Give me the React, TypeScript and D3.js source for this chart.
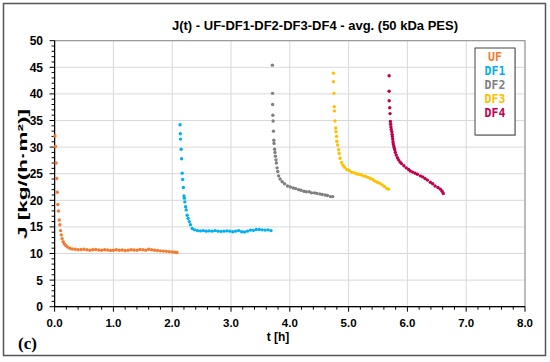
import React from "react";
import * as d3 from "d3";

const TITLE = "J(t) - UF-DF1-DF2-DF3-DF4  - avg. (50 kDa PES)";
const X_LABEL = "t [h]";
const Y_LABEL = "J [kg/(h·m²)]";
const PANEL = "(c)";

const xTicks = [0, 1, 2, 3, 4, 5, 6, 7, 8];
const yTicks = [0, 5, 10, 15, 20, 25, 30, 35, 40, 45, 50];

const UF: [number, number][] = [
  [0.005, 32.1], [0.015, 30.1], [0.025, 27.0], [0.035, 24.1], [0.045, 21.5], [0.055, 19.2],
  [0.065, 18.0], [0.078, 16.3], [0.09, 15.4], [0.102, 14.3], [0.114, 13.5], [0.128, 12.8],
  [0.145, 12.2], [0.165, 11.8], [0.19, 11.5], [0.22, 11.2], [0.26, 11.0], [0.3, 10.85],
  [0.35, 10.8], [0.4, 10.7], [0.45, 10.75], [0.5, 10.8], [0.55, 10.7], [0.6, 10.6], [0.65, 10.7],
  [0.7, 10.75], [0.75, 10.65], [0.8, 10.6], [0.85, 10.7], [0.9, 10.65], [0.95, 10.55], [1.0, 10.6],
  [1.05, 10.7], [1.1, 10.6], [1.15, 10.65], [1.2, 10.55], [1.25, 10.6], [1.3, 10.7], [1.35, 10.65],
  [1.4, 10.6], [1.45, 10.75], [1.5, 10.7], [1.55, 10.6], [1.6, 10.8], [1.65, 10.7], [1.7, 10.6],
  [1.75, 10.55], [1.8, 10.5], [1.85, 10.45], [1.9, 10.4], [1.95, 10.35], [2.0, 10.3], [2.04, 10.25],
  [2.08, 10.2],
];

const DF1: [number, number][] = [
  [2.134, 34.2], [2.138, 32.5], [2.142, 31.5], [2.152, 29.6], [2.16, 27.8], [2.17, 25.1],
  [2.178, 23.9], [2.19, 22.4], [2.2, 20.8], [2.206, 20.4], [2.215, 19.7], [2.228, 18.8],
  [2.238, 18.2], [2.255, 17.2], [2.27, 16.6], [2.29, 16.0], [2.31, 15.4], [2.34, 14.7],
  [2.38, 14.45], [2.43, 14.3], [2.48, 14.25], [2.53, 14.3], [2.58, 14.2], [2.63, 14.25],
  [2.68, 14.2], [2.73, 14.3], [2.78, 14.2], [2.83, 14.15], [2.88, 14.2], [2.93, 14.25],
  [2.98, 14.2], [3.03, 14.1], [3.08, 14.2], [3.13, 14.3], [3.18, 14.1], [3.23, 14.05],
  [3.28, 14.2], [3.33, 14.4], [3.38, 14.35], [3.43, 14.5], [3.48, 14.5], [3.53, 14.45],
  [3.58, 14.4], [3.63, 14.45], [3.68, 14.3],
];

const DF2: [number, number][] = [
  [3.704, 45.4], [3.706, 40.1], [3.708, 38.0], [3.712, 36.0], [3.716, 34.9], [3.722, 33.0],
  [3.728, 31.3], [3.732, 30.7], [3.742, 29.6], [3.748, 29.0], [3.755, 28.3], [3.765, 27.6],
  [3.772, 27.0], [3.784, 26.1], [3.795, 25.4], [3.81, 24.6], [3.835, 24.0], [3.87, 23.5],
  [3.91, 23.1], [3.96, 22.7], [4.01, 22.5], [4.06, 22.3], [4.1, 22.2], [4.15, 22.0],
  [4.19, 21.9], [4.24, 21.7], [4.28, 21.6], [4.33, 21.6], [4.37, 21.4], [4.42, 21.4],
  [4.46, 21.3], [4.51, 21.2], [4.55, 21.1], [4.6, 21.0], [4.64, 20.9], [4.69, 20.7], [4.73, 20.7],
];

const DF3: [number, number][] = [
  [4.742, 43.9], [4.743, 42.3], [4.75, 40.1], [4.755, 37.6], [4.759, 36.8], [4.768, 34.9],
  [4.78, 33.6], [4.785, 32.9], [4.795, 32.0], [4.8, 31.1], [4.815, 30.4], [4.83, 29.5],
  [4.84, 28.8], [4.855, 27.9], [4.88, 27.1], [4.905, 26.6], [4.93, 26.2], [4.97, 25.8],
  [5.01, 25.6], [5.05, 25.3], [5.09, 25.2], [5.13, 25.0], [5.17, 24.9], [5.21, 24.8],
  [5.25, 24.6], [5.29, 24.5], [5.33, 24.3], [5.37, 24.1], [5.41, 23.9], [5.45, 23.6],
  [5.49, 23.4], [5.53, 23.2], [5.57, 22.9], [5.61, 22.6], [5.65, 22.2], [5.68, 22.1],
];

const DF4: [number, number][] = [
  [5.689, 43.4], [5.689, 40.5], [5.69, 38.7], [5.7, 37.4], [5.705, 36.3], [5.711, 34.8],
  [5.715, 34.3], [5.72, 33.8], [5.725, 33.3], [5.735, 32.9], [5.74, 32.4], [5.745, 32.0],
  [5.75, 31.5], [5.755, 31.0], [5.76, 30.6], [5.769, 30.2], [5.775, 29.9], [5.785, 29.5],
  [5.795, 29.0], [5.81, 28.5], [5.83, 28.0], [5.85, 27.6], [5.875, 27.2], [5.9, 26.9],
  [5.94, 26.5], [5.98, 26.1], [6.02, 25.8], [6.05, 25.5], [6.09, 25.3], [6.13, 25.1],
  [6.17, 24.9], [6.22, 24.6], [6.26, 24.4], [6.3, 24.1], [6.34, 23.8], [6.39, 23.4],
  [6.43, 23.1], [6.47, 22.7], [6.52, 22.4], [6.56, 22.1], [6.59, 21.7], [6.61, 21.3],
];

const seriesNames = ["UF", "DF1", "DF2", "DF3", "DF4"];
const seriesData = [UF, DF1, DF2, DF3, DF4];
const seriesColors = ["#F47B2E", "#00B0F0", "#7F7F7F", "#FFC000", "#C0004E"];

export default function App() {
  const W = 550;
  const H = 362;
  const x = d3.scaleLinear().domain([0, 8]).range([54.6, 525]);
  const y = d3.scaleLinear().domain([0, 50]).range([306.7, 40.7]);
  const xMinor = d3.range(0, 8.0001, 0.2);
  const yMinor = d3.range(0, 50.0001, 1);
  const sans = "Arial, 'Liberation Sans', sans-serif";

  return (
    <svg width={W} height={H} style={{ position: "absolute", left: 0, top: 0 }}>
      <rect x={0} y={0} width={W} height={H} fill="#fff" />
      <rect x={3.5} y={3.5} width={542} height={352} fill="#fff" stroke="#555" strokeWidth={1.5} />
      {/* grid */}
      {yTicks.map((t) => (
        <line key={"gy" + t} x1={x(0)} x2={x(8)} y1={y(t)} y2={y(t)} stroke="#d9d9d9" strokeWidth={1} />
      ))}
      {xTicks.map((t) => (
        <line key={"gx" + t} x1={x(t)} x2={x(t)} y1={y(0)} y2={y(50)} stroke="#d9d9d9" strokeWidth={1} />
      ))}
      <rect x={x(0)} y={y(50)} width={x(8) - x(0)} height={y(0) - y(50)} fill="none" stroke="#8c8c8c" strokeWidth={1} />
      {/* axes */}
      <line x1={x(0)} x2={x(0)} y1={y(0)} y2={y(50)} stroke="#000" strokeWidth={1.2} />
      <line x1={x(0)} x2={x(8)} y1={y(0)} y2={y(0)} stroke="#000" strokeWidth={1.2} />
      {yMinor.map((t) => (
        <line key={"ym" + t} x1={x(0) - (t % 5 === 0 ? 5 : 3)} x2={x(0)} y1={y(t)} y2={y(t)} stroke="#000" strokeWidth={1} />
      ))}
      {xMinor.map((t, i) => (
        <line key={"xm" + i} x1={x(t)} x2={x(t)} y1={y(0)} y2={y(0) + (i % 5 === 0 ? 5 : 3)} stroke="#000" strokeWidth={1} />
      ))}
      {yTicks.map((t) => (
        <text key={"yl" + t} x={43} y={y(t) + 4.5} textAnchor="end" fontFamily={sans} fontWeight="bold" fontSize={12} fill="#000">
          {t}
        </text>
      ))}
      {xTicks.map((t) => (
        <text key={"xl" + t} x={x(t)} y={327} textAnchor="middle" fontFamily={sans} fontWeight="bold" fontSize={11.5} fill="#000">
          {t.toFixed(1)}
        </text>
      ))}
      <text x={278} y={341} textAnchor="middle" fontFamily={sans} fontWeight="bold" fontSize={12} fill="#000">
        {X_LABEL}
      </text>
      <text
        transform={`translate(27,174) rotate(-90)`}
        textAnchor="middle"
        fontFamily={sans}
        fontWeight="bold"
        fontSize={12}
        textLength={130}
        lengthAdjust="spacingAndGlyphs"
        fill="#000"
      >
        {Y_LABEL}
      </text>
      <text x={315} y={30} textAnchor="middle" fontFamily={sans} fontWeight="bold" fontSize={13} fill="#000">
        {TITLE}
      </text>
      <text x={18} y={349} fontFamily="'Liberation Serif', 'DejaVu Serif', serif" fontWeight="bold" fontSize={17} fill="#000">
        {PANEL}
      </text>
      {/* data */}
      {seriesData.map((s, si) => (
        <g key={"s" + si} fill={seriesColors[si]}>
          {s.map((d, i) => (
            <circle key={i} cx={x(d[0])} cy={y(d[1])} r={1.7} />
          ))}
        </g>
      ))}
      {/* legend */}
      <rect x={476} y={49} width={40} height={87} fill="#000" opacity={0.2} />
      <rect x={475} y={48} width={40} height={87} fill="#fff" stroke="#444" strokeWidth={1} />
      {seriesNames.map((n, i) => (
        <text
          key={"lg" + n}
          x={495}
          y={61 + i * 13.9}
          textAnchor="middle"
          fontFamily="'DejaVu Sans Mono', 'Liberation Mono', monospace"
          fontWeight="bold"
          fontSize={11.5}
          fill={seriesColors[i]}
        >
          {n}
        </text>
      ))}
    </svg>
  );
}
